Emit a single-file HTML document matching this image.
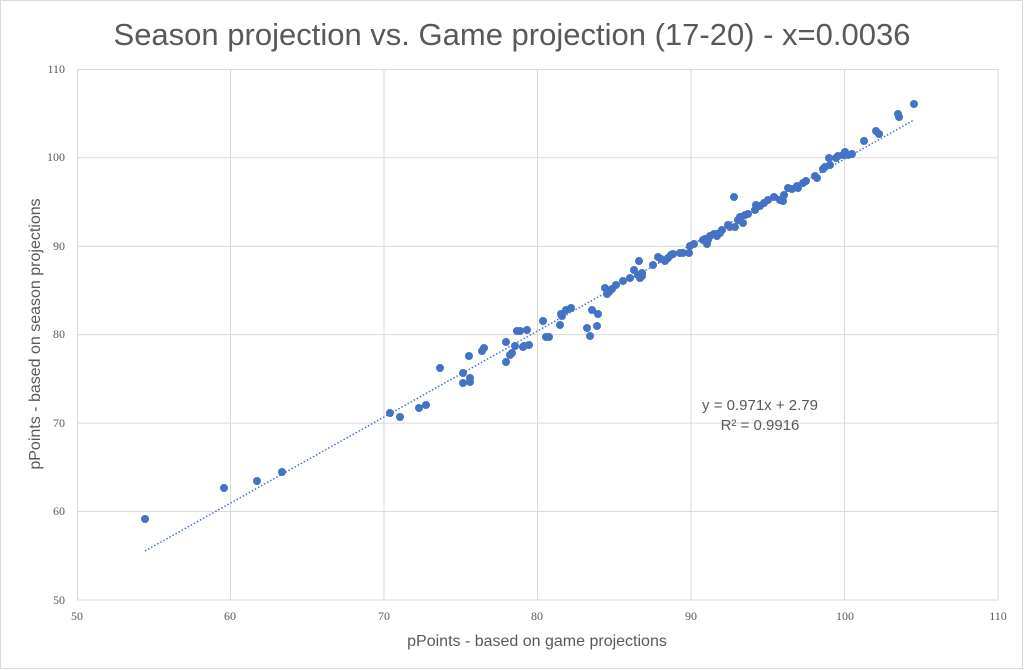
<!DOCTYPE html>
<html><head><meta charset="utf-8"><style>
body{margin:0;background:#fff;}
svg{display:block;font-family:"Liberation Sans",sans-serif;}
</style></head><body>
<svg width="1024" height="670" viewBox="0 0 1024 670">
<rect x="0.5" y="0.5" width="1022" height="668" fill="#fff" stroke="#d9d9d9"/>
<text x="512" y="45" text-anchor="middle" font-size="31" fill="#595959">Season projection vs. Game projection (17-20) - x=0.0036</text>
<g stroke="#d9d9d9" stroke-width="1">
<line x1="77" y1="69.5" x2="998" y2="69.5"/>
<line x1="77" y1="157.7" x2="998" y2="157.7"/>
<line x1="77" y1="246.2" x2="998" y2="246.2"/>
<line x1="77" y1="334.6" x2="998" y2="334.6"/>
<line x1="77" y1="423.1" x2="998" y2="423.1"/>
<line x1="77" y1="511.5" x2="998" y2="511.5"/>
<line x1="77" y1="600" x2="998" y2="600"/>
<line x1="77.5" y1="69" x2="77.5" y2="600"/>
<line x1="230.5" y1="69" x2="230.5" y2="600"/>
<line x1="384" y1="69" x2="384" y2="600"/>
<line x1="537.5" y1="69" x2="537.5" y2="600"/>
<line x1="691" y1="69" x2="691" y2="600"/>
<line x1="844.5" y1="69" x2="844.5" y2="600"/>
<line x1="998" y1="69" x2="998" y2="600"/>
</g>
<g font-size="12" fill="#595959" text-anchor="end" font-family="Liberation Serif, serif">
<text x="65" y="73">110</text><text x="65" y="161">100</text><text x="65" y="250">90</text>
<text x="65" y="338">80</text><text x="65" y="427">70</text><text x="65" y="515">60</text><text x="65" y="604">50</text>
</g>
<g font-size="12" fill="#595959" text-anchor="middle" font-family="Liberation Serif, serif">
<text x="77" y="620">50</text><text x="230" y="620">60</text><text x="384" y="620">70</text>
<text x="537" y="620">80</text><text x="691" y="620">90</text><text x="845" y="620">100</text><text x="998" y="620">110</text>
</g>
<text x="537" y="646" text-anchor="middle" font-size="16" fill="#595959">pPoints - based on game projections</text>
<text transform="translate(40,334) rotate(-90)" text-anchor="middle" font-size="16" fill="#595959">pPoints - based on season projections</text>
<line x1="145" y1="551" x2="914" y2="120" stroke="#4472c4" stroke-width="1.5" stroke-dasharray="1.5,2"/>
<g fill="#4472c4">
<circle cx="145" cy="519" r="4"/><circle cx="224" cy="488" r="4"/><circle cx="257" cy="481" r="4"/><circle cx="282" cy="472" r="4"/><circle cx="390" cy="413" r="4"/><circle cx="400" cy="417" r="4"/><circle cx="419" cy="408" r="4"/><circle cx="426" cy="405" r="4"/><circle cx="440" cy="368" r="4"/><circle cx="463" cy="373" r="4"/><circle cx="463" cy="383" r="4"/><circle cx="470" cy="382" r="4"/><circle cx="469" cy="356" r="4"/><circle cx="470" cy="378" r="4"/><circle cx="482" cy="351" r="4"/><circle cx="484" cy="348" r="4"/><circle cx="506" cy="342" r="4"/><circle cx="506" cy="362" r="4"/><circle cx="510" cy="355" r="4"/><circle cx="512" cy="353" r="4"/><circle cx="515" cy="346" r="4"/><circle cx="517" cy="331" r="4"/><circle cx="520" cy="331" r="4"/><circle cx="523" cy="347" r="4"/><circle cx="524" cy="346" r="4"/><circle cx="527" cy="330" r="4"/><circle cx="529" cy="345" r="4"/><circle cx="543" cy="321" r="4"/><circle cx="546" cy="337" r="4"/><circle cx="549" cy="337" r="4"/><circle cx="560" cy="325" r="4"/><circle cx="561" cy="314" r="4"/><circle cx="562" cy="316" r="4"/><circle cx="566" cy="310" r="4"/><circle cx="571" cy="308" r="4"/><circle cx="587" cy="328" r="4"/><circle cx="590" cy="336" r="4"/><circle cx="592" cy="310" r="4"/><circle cx="597" cy="326" r="4"/><circle cx="598" cy="314" r="4"/><circle cx="605" cy="288" r="4"/><circle cx="607" cy="294" r="4"/><circle cx="609" cy="292" r="4"/><circle cx="612" cy="289" r="4"/><circle cx="616" cy="285" r="4"/><circle cx="623" cy="281" r="4"/><circle cx="630" cy="278" r="4"/><circle cx="634" cy="270" r="4"/><circle cx="638" cy="275" r="4"/><circle cx="639" cy="261" r="4"/><circle cx="640" cy="278" r="4"/><circle cx="642" cy="276" r="4"/><circle cx="642" cy="273" r="4"/><circle cx="653" cy="265" r="4"/><circle cx="658" cy="257" r="4"/><circle cx="661" cy="259" r="4"/><circle cx="665" cy="261" r="4"/><circle cx="668" cy="258" r="4"/><circle cx="671" cy="255" r="4"/><circle cx="673" cy="254" r="4"/><circle cx="680" cy="253" r="4"/><circle cx="683" cy="253" r="4"/><circle cx="689" cy="253" r="4"/><circle cx="690" cy="246" r="4"/><circle cx="694" cy="244" r="4"/><circle cx="703" cy="240" r="4"/><circle cx="705" cy="239" r="4"/><circle cx="707" cy="244" r="4"/><circle cx="708" cy="240" r="4"/><circle cx="710" cy="236" r="4"/><circle cx="714" cy="234" r="4"/><circle cx="717" cy="236" r="4"/><circle cx="720" cy="233" r="4"/><circle cx="722" cy="230" r="4"/><circle cx="730" cy="227" r="4"/><circle cx="735" cy="227" r="4"/><circle cx="728" cy="225" r="4"/><circle cx="734" cy="197" r="4"/><circle cx="738" cy="220" r="4"/><circle cx="740" cy="217" r="4"/><circle cx="743" cy="223" r="4"/><circle cx="745" cy="215" r="4"/><circle cx="748" cy="214" r="4"/><circle cx="755" cy="210" r="4"/><circle cx="756" cy="205" r="4"/><circle cx="760" cy="206" r="4"/><circle cx="764" cy="203" r="4"/><circle cx="768" cy="200" r="4"/><circle cx="774" cy="197" r="4"/><circle cx="780" cy="200" r="4"/><circle cx="784" cy="195" r="4"/><circle cx="783" cy="201" r="4"/><circle cx="788" cy="188" r="4"/><circle cx="792" cy="189" r="4"/><circle cx="797" cy="186" r="4"/><circle cx="798" cy="188" r="4"/><circle cx="803" cy="183" r="4"/><circle cx="806" cy="181" r="4"/><circle cx="815" cy="176" r="4"/><circle cx="817" cy="178" r="4"/><circle cx="823" cy="169" r="4"/><circle cx="825" cy="167" r="4"/><circle cx="830" cy="165" r="4"/><circle cx="829" cy="158" r="4"/><circle cx="836" cy="158" r="4"/><circle cx="838" cy="156" r="4"/><circle cx="843" cy="155" r="4"/><circle cx="845" cy="152" r="4"/><circle cx="848" cy="155" r="4"/><circle cx="852" cy="154" r="4"/><circle cx="864" cy="141" r="4"/><circle cx="876" cy="131" r="4"/><circle cx="879" cy="134" r="4"/><circle cx="898" cy="114" r="4"/><circle cx="899" cy="117" r="4"/><circle cx="914" cy="104" r="4"/>
</g>
<text x="760" y="410" text-anchor="middle" font-size="15" fill="#595959">y = 0.971x + 2.79</text>
<text x="760" y="430" text-anchor="middle" font-size="15" fill="#595959">R² = 0.9916</text>
</svg>
</body></html>
